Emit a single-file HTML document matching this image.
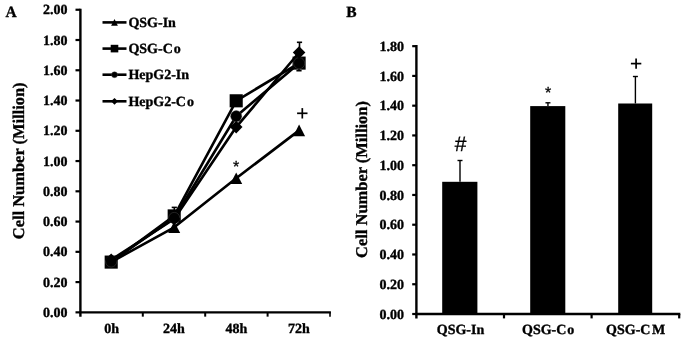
<!DOCTYPE html>
<html><head><meta charset="utf-8"><title>Cell Number Charts</title>
<style>
html,body{margin:0;padding:0;background:#fff;}
body{width:685px;height:342px;overflow:hidden;font-family:"Liberation Serif",serif;}
svg{display:block;will-change:transform;}
.t{font-family:"Liberation Serif",serif;font-weight:bold;fill:#000;stroke:#000;stroke-width:0.35px;stroke-linejoin:round;text-rendering:geometricPrecision;}
.s{font-family:"Liberation Sans",sans-serif;fill:#000;stroke:#000;stroke-width:0.3px;text-rendering:geometricPrecision;}
</style></head><body>
<svg width="685" height="342" viewBox="0 0 685 342">
<rect x="0" y="0" width="685" height="342" fill="#ffffff"/>

<g id="chartA">
<text class="t" transform="translate(5.4,16.6)" font-size="15.5" text-anchor="start">A</text>
<line x1="80.4" y1="8.65" x2="80.4" y2="316.65000000000003" stroke="#000" stroke-width="2.4"/>
<line x1="79.4" y1="312.35" x2="330.9" y2="312.35" stroke="#000" stroke-width="2.4"/>
<line x1="75.5" y1="312.35" x2="80.4" y2="312.35" stroke="#000" stroke-width="2.2"/>
<text class="t" transform="translate(67.6,316.95)" font-size="14" text-anchor="end">0.00</text>
<line x1="75.5" y1="282.09" x2="80.4" y2="282.09" stroke="#000" stroke-width="2.2"/>
<text class="t" transform="translate(67.6,286.69)" font-size="14" text-anchor="end">0.20</text>
<line x1="75.5" y1="251.83" x2="80.4" y2="251.83" stroke="#000" stroke-width="2.2"/>
<text class="t" transform="translate(67.6,256.43)" font-size="14" text-anchor="end">0.40</text>
<line x1="75.5" y1="221.57" x2="80.4" y2="221.57" stroke="#000" stroke-width="2.2"/>
<text class="t" transform="translate(67.6,226.17)" font-size="14" text-anchor="end">0.60</text>
<line x1="75.5" y1="191.31" x2="80.4" y2="191.31" stroke="#000" stroke-width="2.2"/>
<text class="t" transform="translate(67.6,195.91)" font-size="14" text-anchor="end">0.80</text>
<line x1="75.5" y1="161.05" x2="80.4" y2="161.05" stroke="#000" stroke-width="2.2"/>
<text class="t" transform="translate(67.6,165.65)" font-size="14" text-anchor="end">1.00</text>
<line x1="75.5" y1="130.79" x2="80.4" y2="130.79" stroke="#000" stroke-width="2.2"/>
<text class="t" transform="translate(67.6,135.39)" font-size="14" text-anchor="end">1.20</text>
<line x1="75.5" y1="100.53" x2="80.4" y2="100.53" stroke="#000" stroke-width="2.2"/>
<text class="t" transform="translate(67.6,105.13)" font-size="14" text-anchor="end">1.40</text>
<line x1="75.5" y1="70.27" x2="80.4" y2="70.27" stroke="#000" stroke-width="2.2"/>
<text class="t" transform="translate(67.6,74.87)" font-size="14" text-anchor="end">1.60</text>
<line x1="75.5" y1="40.01" x2="80.4" y2="40.01" stroke="#000" stroke-width="2.2"/>
<text class="t" transform="translate(67.6,44.61)" font-size="14" text-anchor="end">1.80</text>
<line x1="75.5" y1="9.75" x2="80.4" y2="9.75" stroke="#000" stroke-width="2.2"/>
<text class="t" transform="translate(67.6,14.35)" font-size="14" text-anchor="end">2.00</text>
<line x1="142.8" y1="312.35" x2="142.8" y2="316.65000000000003" stroke="#000" stroke-width="2.0"/>
<line x1="205.2" y1="312.35" x2="205.2" y2="316.65000000000003" stroke="#000" stroke-width="2.0"/>
<line x1="267.6" y1="312.35" x2="267.6" y2="316.65000000000003" stroke="#000" stroke-width="2.0"/>
<line x1="330" y1="312.35" x2="330" y2="316.65000000000003" stroke="#000" stroke-width="1.6"/>
<text class="t" transform="translate(111.6,332.7)" font-size="14" text-anchor="middle">0h</text>
<text class="t" transform="translate(174,332.7)" font-size="14" text-anchor="middle">24h</text>
<text class="t" transform="translate(236.4,332.7)" font-size="14" text-anchor="middle">48h</text>
<text class="t" transform="translate(298.8,332.7)" font-size="14" text-anchor="middle">72h</text>
<text class="t" transform="translate(24.3,160.8) rotate(-90)" font-size="16.45" text-anchor="middle">Cell Number (Million)</text>
<line x1="299.5" y1="42.3" x2="299.5" y2="52" stroke="#000" stroke-width="1.6"/><line x1="296.9" y1="42.3" x2="302.1" y2="42.3" stroke="#000" stroke-width="1.6"/>
<line x1="299" y1="70.7" x2="299" y2="63" stroke="#000" stroke-width="1.6"/><line x1="296.4" y1="70.7" x2="301.6" y2="70.7" stroke="#000" stroke-width="1.6"/>
<line x1="174.3" y1="207.4" x2="174.3" y2="215" stroke="#000" stroke-width="1.6"/><line x1="171.7" y1="207.4" x2="176.9" y2="207.4" stroke="#000" stroke-width="1.6"/>
<polyline points="111.2,262 174.2,227.3 236.2,178.3 299.1,130.4" fill="none" stroke="#000" stroke-width="2.6" stroke-linejoin="round"/>
<polyline points="111.2,262.1 174.2,215.9 236.2,100.8 299.1,63.1" fill="none" stroke="#000" stroke-width="2.6" stroke-linejoin="round"/>
<polyline points="111.2,261.5 174.2,218 236.2,116.2 299.1,63.2" fill="none" stroke="#000" stroke-width="2.6" stroke-linejoin="round"/>
<polyline points="111.2,259.8 174.2,219 236.2,127.1 299.1,52.5" fill="none" stroke="#000" stroke-width="2.6" stroke-linejoin="round"/>
<polygon points="111.2,256.18 117.2,267.82 105.2,267.82" fill="#000"/>
<polygon points="174.2,221.48 180.2,233.12 168.2,233.12" fill="#000"/>
<polygon points="236.2,172.48 242.2,184.12 230.2,184.12" fill="#000"/>
<polygon points="299.1,124.58 305.1,136.22 293.1,136.22" fill="#000"/>
<rect x="104.65" y="255.55" width="13.1" height="13.1" fill="#000"/>
<rect x="167.65" y="209.35" width="13.1" height="13.1" fill="#000"/>
<rect x="229.65" y="94.25" width="13.1" height="13.1" fill="#000"/>
<rect x="292.55" y="56.55" width="13.1" height="13.1" fill="#000"/>
<circle cx="111.2" cy="261.5" r="5.6" fill="#000" stroke="#555" stroke-width="0.4"/>
<circle cx="174.2" cy="218" r="5.6" fill="#000" stroke="#555" stroke-width="0.4"/>
<circle cx="236.2" cy="116.2" r="5.6" fill="#000" stroke="#555" stroke-width="0.4"/>
<circle cx="299.1" cy="63.2" r="5.6" fill="#000" stroke="#555" stroke-width="0.4"/>
<polygon points="111.2,253.5 117.5,259.8 111.2,266.1 104.9,259.8" fill="#000"/>
<polygon points="174.2,212.7 180.5,219 174.2,225.3 167.9,219" fill="#000"/>
<polygon points="236.2,120.8 242.5,127.1 236.2,133.4 229.9,127.1" fill="#000"/>
<polygon points="299.1,46.2 305.4,52.5 299.1,58.8 292.8,52.5" fill="#000"/>
<text class="s" x="236.2" y="172.2" font-size="16" text-anchor="middle">*</text>
<line x1="297.1" y1="113.3" x2="307.5" y2="113.3" stroke="#000" stroke-width="1.7"/><line x1="302.3" y1="108.1" x2="302.3" y2="118.5" stroke="#000" stroke-width="1.7"/>
<line x1="102.5" y1="22.4" x2="126.5" y2="22.4" stroke="#000" stroke-width="2.6"/>
<polygon points="114.5,19.1 117.9,25.7 111.1,25.7" fill="#000"/>
<text class="t" transform="translate(128.4,27.1)" font-size="14" text-anchor="start">QSG-In</text>
<line x1="102.5" y1="48.6" x2="126.5" y2="48.6" stroke="#000" stroke-width="2.6"/>
<rect x="110.7" y="44.8" width="7.6" height="7.6" fill="#000"/>
<text class="t" transform="translate(128.4,53.3)" font-size="14" text-anchor="start">QSG-C<tspan dx="1.1">o</tspan></text>
<line x1="102.5" y1="74.7" x2="126.5" y2="74.7" stroke="#000" stroke-width="2.6"/>
<circle cx="114.5" cy="74.7" r="3" fill="#000" stroke="#555" stroke-width="0.4"/>
<text class="t" transform="translate(128.4,79.4)" font-size="14" text-anchor="start">HepG2-In</text>
<line x1="102.5" y1="101.3" x2="126.5" y2="101.3" stroke="#000" stroke-width="2.6"/>
<polygon points="114.5,97.9 117.9,101.3 114.5,104.7 111.1,101.3" fill="#000"/>
<text class="t" transform="translate(128.4,106)" font-size="14" text-anchor="start">HepG2-C<tspan dx="1.1">o</tspan></text>
</g>
<g id="chartB">
<text class="t" transform="translate(346.2,17)" font-size="15.5" text-anchor="start">B</text>
<line x1="416.4" y1="45.06" x2="416.4" y2="318.4" stroke="#000" stroke-width="2.4"/>
<line x1="415.4" y1="314.0" x2="680.3" y2="314.0" stroke="#000" stroke-width="2.4"/>
<line x1="412.2" y1="314" x2="416.4" y2="314" stroke="#000" stroke-width="2.2"/>
<text class="t" transform="translate(404,318.7)" font-size="14" text-anchor="end">0.00</text>
<line x1="412.2" y1="284.24" x2="416.4" y2="284.24" stroke="#000" stroke-width="2.2"/>
<text class="t" transform="translate(404,288.94)" font-size="14" text-anchor="end">0.20</text>
<line x1="412.2" y1="254.48" x2="416.4" y2="254.48" stroke="#000" stroke-width="2.2"/>
<text class="t" transform="translate(404,259.18)" font-size="14" text-anchor="end">0.40</text>
<line x1="412.2" y1="224.72" x2="416.4" y2="224.72" stroke="#000" stroke-width="2.2"/>
<text class="t" transform="translate(404,229.42)" font-size="14" text-anchor="end">0.60</text>
<line x1="412.2" y1="194.96" x2="416.4" y2="194.96" stroke="#000" stroke-width="2.2"/>
<text class="t" transform="translate(404,199.66)" font-size="14" text-anchor="end">0.80</text>
<line x1="412.2" y1="165.2" x2="416.4" y2="165.2" stroke="#000" stroke-width="2.2"/>
<text class="t" transform="translate(404,169.9)" font-size="14" text-anchor="end">1.00</text>
<line x1="412.2" y1="135.44" x2="416.4" y2="135.44" stroke="#000" stroke-width="2.2"/>
<text class="t" transform="translate(404,140.14)" font-size="14" text-anchor="end">1.20</text>
<line x1="412.2" y1="105.68" x2="416.4" y2="105.68" stroke="#000" stroke-width="2.2"/>
<text class="t" transform="translate(404,110.38)" font-size="14" text-anchor="end">1.40</text>
<line x1="412.2" y1="75.92" x2="416.4" y2="75.92" stroke="#000" stroke-width="2.2"/>
<text class="t" transform="translate(404,80.62)" font-size="14" text-anchor="end">1.60</text>
<line x1="412.2" y1="46.16" x2="416.4" y2="46.16" stroke="#000" stroke-width="2.2"/>
<text class="t" transform="translate(404,50.86)" font-size="14" text-anchor="end">1.80</text>
<line x1="504" y1="314.0" x2="504" y2="318.4" stroke="#000" stroke-width="2.2"/>
<line x1="591.6" y1="314.0" x2="591.6" y2="318.4" stroke="#000" stroke-width="2.2"/>
<line x1="679.2" y1="314.0" x2="679.2" y2="318.4" stroke="#000" stroke-width="2.2"/>
<text class="t" transform="translate(366.8,179.5) rotate(-90)" font-size="16.45" text-anchor="middle">Cell Number (Million)</text>
<rect x="442.2" y="181.8" width="35.2" height="132.2" fill="#000"/>
<line x1="460" y1="160.5" x2="460" y2="181.8" stroke="#000" stroke-width="1.4"/><line x1="457.5" y1="160.5" x2="462.5" y2="160.5" stroke="#000" stroke-width="1.4"/>
<rect x="530.2" y="106.1" width="35.1" height="207.9" fill="#000"/>
<line x1="547.95" y1="102.8" x2="547.95" y2="106.1" stroke="#000" stroke-width="1.4"/><line x1="545.45" y1="102.8" x2="550.45" y2="102.8" stroke="#000" stroke-width="1.4"/>
<rect x="618.2" y="103.5" width="34" height="210.5" fill="#000"/>
<line x1="635.4" y1="76.5" x2="635.4" y2="103.5" stroke="#000" stroke-width="1.4"/><line x1="632.9" y1="76.5" x2="637.9" y2="76.5" stroke="#000" stroke-width="1.4"/>
<text class="t" transform="translate(460.5,334.2)" font-size="14" text-anchor="middle">QSG-In</text>
<text class="t" transform="translate(548.1,334.2)" font-size="14" text-anchor="middle">QSG-C<tspan dx="0.8">o</tspan></text>
<text class="t" transform="translate(635.7,334.2)" font-size="14" text-anchor="middle">QSG-C<tspan dx="1.6">M</tspan></text>
<text class="s" x="460.5" y="151.2" font-size="21" text-anchor="middle">#</text>
<text class="s" x="548.1" y="98.3" font-size="16" text-anchor="middle">*</text>
<line x1="630.9" y1="63.6" x2="641.3" y2="63.6" stroke="#000" stroke-width="1.7"/><line x1="636.1" y1="58.4" x2="636.1" y2="68.8" stroke="#000" stroke-width="1.7"/>
</g>
</svg></body></html>
